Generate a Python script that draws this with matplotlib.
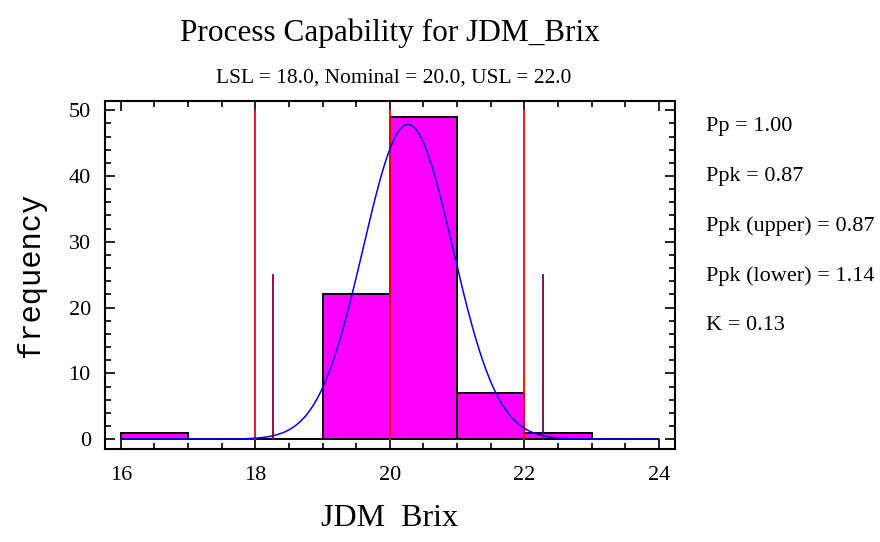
import numpy as np
import matplotlib
matplotlib.use("Agg")
import matplotlib.pyplot as plt
from matplotlib.ticker import MultipleLocator

# histogram data (bin edges and counts)
bin_left = [16, 17, 18, 19, 20, 21, 22, 23]
counts = [1, 0, 0, 22, 49, 7, 1, 0]
bin_width = 1.0
n_total = 80

# spec limits and fitted normal
lsl, nominal, usl = 18.0, 20.0, 22.0
mean = 20.27
sigma = 0.667

stats_labels = ["Pp = 1.00", "Ppk = 0.87", "Ppk (upper) = 0.87",
                "Ppk (lower) = 1.14", "K = 0.13"]

serif = "Liberation Serif"

fig = plt.figure(figsize=(8.8, 5.42), dpi=100)
ax = fig.add_axes([0.119, 0.1716, 0.648, 0.642])

ax.bar(bin_left, counts, width=bin_width, align="edge",
       color="#FF00FF", edgecolor="black", linewidth=1.4, zorder=2)

# spec lines
for v in (lsl, nominal, usl):
    ax.plot([v, v], [0, 50], color="#FF0000", lw=1.3, zorder=3)

# +/- 3 sigma lines
for v in (mean - 3 * sigma, mean + 3 * sigma):
    ax.plot([v, v], [0, 25], color="#800040", lw=1.3, zorder=3)

# fitted normal curve
xs = np.linspace(16, 24, 400)
ys = n_total * bin_width * np.exp(-0.5 * ((xs - mean) / sigma) ** 2) / (sigma * np.sqrt(2 * np.pi))
ax.plot(xs, ys, color="#0000FF", lw=1.1, zorder=4)

ax.set_xlim(15.76, 24.24)
ax.set_ylim(-1.5, 51.4)
ax.xaxis.set_major_locator(MultipleLocator(2))
ax.xaxis.set_minor_locator(MultipleLocator(0.5))
ax.yaxis.set_major_locator(MultipleLocator(10))
ax.yaxis.set_minor_locator(MultipleLocator(2))
ax.tick_params(which="both", direction="in", top=True, right=True, width=1.2)
ax.tick_params(which="major", length=7, labelsize=16)
ax.tick_params(axis="x", which="major", pad=12)
ax.tick_params(axis="y", which="major", pad=10)
ax.tick_params(which="minor", length=4)
for lab in ax.get_xticklabels() + ax.get_yticklabels():
    lab.set_fontfamily(serif)
for s in ax.spines.values():
    s.set_linewidth(1.5)

ax.set_xlabel("JDM  Brix", fontfamily=serif, fontsize=23, labelpad=14)
ax.set_ylabel("frequency", fontfamily="Liberation Mono", fontsize=22, labelpad=16)

fig.text(0.443, 0.938, "Process Capability for JDM_Brix", ha="center", va="center",
         fontfamily=serif, fontsize=22.5)
fig.text(0.447, 0.856, "LSL = 18.0, Nominal = 20.0, USL = 22.0", ha="center", va="center",
         fontfamily=serif, fontsize=15.5)

for i, t in enumerate(stats_labels):
    fig.text(0.802, 1 - (126 + 50 * i) / 542, t, ha="left", va="center",
             fontfamily=serif, fontsize=16)

fig.savefig("out.png", dpi=100)
